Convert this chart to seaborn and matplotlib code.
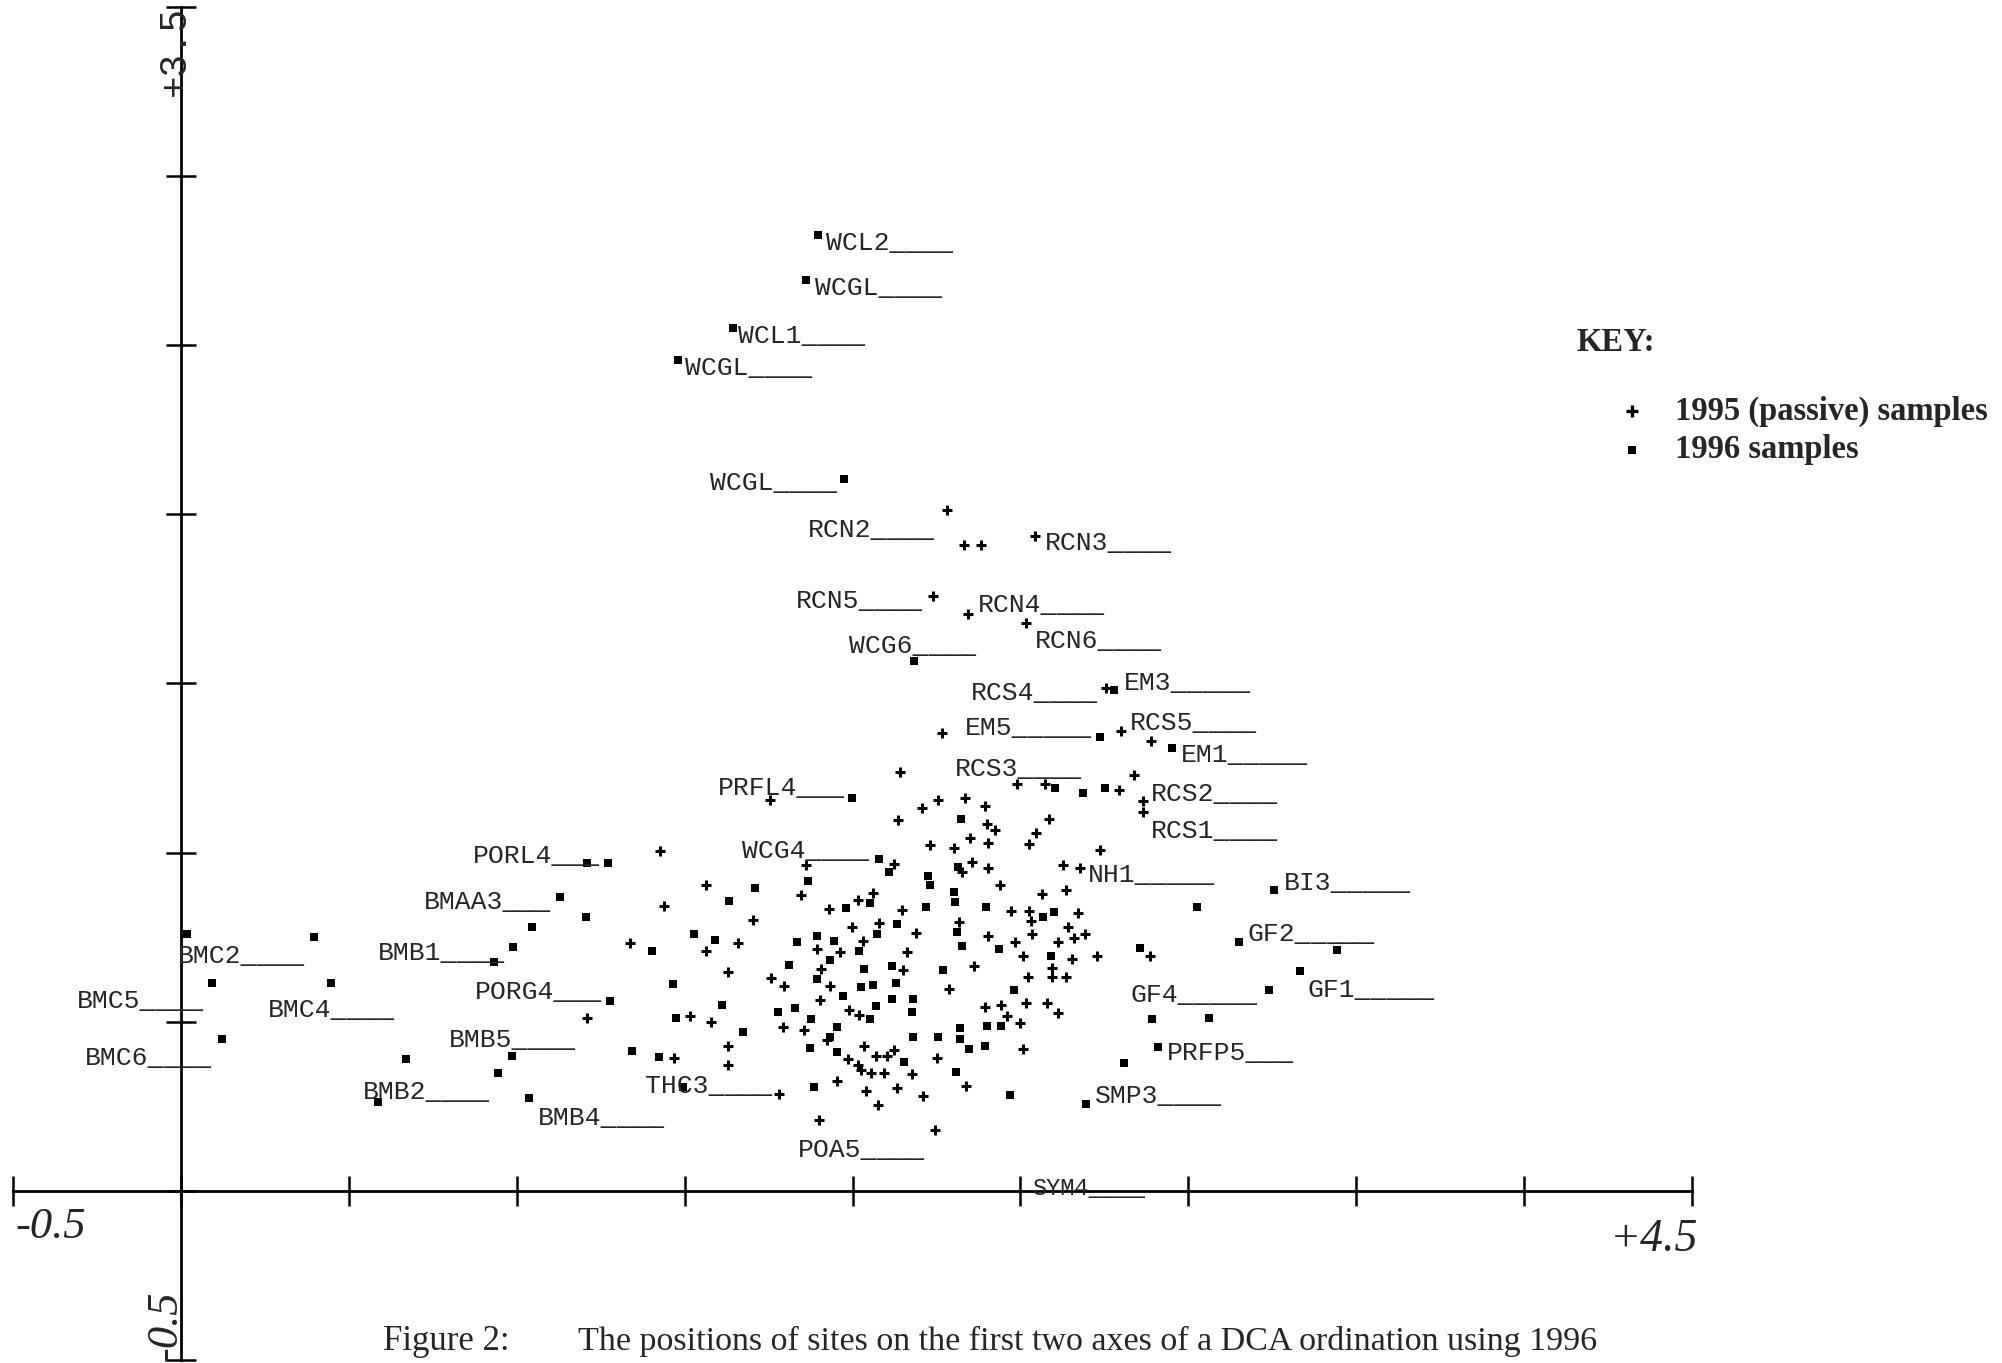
import matplotlib
matplotlib.use("Agg")
import matplotlib.pyplot as plt
import seaborn as sns
import pandas as pd

# DCA axis 1 / axis 2 site scores
sites_1995 = [
    (2.281, 2.013), (2.332, 1.910), (2.382, 1.910), (2.543, 1.936), (2.239, 1.759),
    (2.345, 1.705), (2.517, 1.680), (2.754, 1.486), (2.267, 1.353), (2.798, 1.360),
    (2.889, 1.330), (2.140, 1.238), (1.755, 1.156), (2.491, 1.202), (2.574, 1.202),
    (2.793, 1.185), (2.838, 1.228), (2.865, 1.153), (2.865, 1.121), (2.255, 1.156),
    (2.335, 1.162), (2.207, 1.133), (2.393, 1.139), (2.134, 1.097), (2.399, 1.084),
    (2.423, 1.067), (2.586, 1.099), (2.547, 1.057), (2.351, 1.044), (2.403, 1.028),
    (2.231, 1.023), (2.302, 1.015), (2.524, 1.025), (2.736, 1.008), (1.861, 0.963),
    (2.124, 0.966), (2.327, 0.942), (2.357, 0.971), (2.403, 0.955), (2.626, 0.963),
    (2.676, 0.954), (1.564, 0.904), (2.440, 0.904), (2.563, 0.877), (2.637, 0.890),
    (1.845, 0.875), (2.060, 0.880), (1.427, 1.006), (1.439, 0.842), (1.705, 0.801),
    (1.337, 0.734), (1.563, 0.710), (1.660, 0.732), (1.630, 0.646), (1.210, 0.512),
    (1.516, 0.517), (1.579, 0.500), (1.630, 0.428), (1.630, 0.372), (1.469, 0.392),
    (1.781, 0.286), (1.901, 0.210), (1.955, 0.326), (2.040, 0.296), (2.077, 0.254),
    (2.133, 0.303), (2.015, 0.860), (1.929, 0.833), (2.080, 0.791), (1.997, 0.779),
    (2.032, 0.740), (1.893, 0.715), (1.963, 0.707), (1.905, 0.656), (1.756, 0.630),
    (1.796, 0.607), (1.933, 0.606), (1.903, 0.564), (1.988, 0.535), (2.020, 0.520),
    (1.794, 0.485), (1.856, 0.476), (1.923, 0.446), (1.985, 0.389), (2.016, 0.372),
    (2.025, 0.357), (2.054, 0.348), (2.094, 0.348), (2.034, 0.428), (2.070, 0.399),
    (2.102, 0.399), (2.124, 0.417), (2.146, 0.830), (2.189, 0.762), (2.317, 0.796),
    (2.472, 0.828), (2.524, 0.827), (2.531, 0.798), (2.670, 0.821), (2.402, 0.754),
    (2.534, 0.760), (2.641, 0.781), (2.658, 0.747), (2.692, 0.759), (2.613, 0.737),
    (2.484, 0.737), (2.161, 0.705), (2.507, 0.695), (2.652, 0.686), (2.727, 0.695),
    (2.149, 0.653), (2.362, 0.665), (2.595, 0.658), (2.595, 0.633), (2.636, 0.633),
    (2.522, 0.633), (2.287, 0.596), (2.395, 0.545), (2.442, 0.550), (2.516, 0.556),
    (2.578, 0.556), (2.613, 0.527), (2.459, 0.518), (2.499, 0.495), (2.509, 0.420),
    (2.251, 0.392), (2.176, 0.346), (2.209, 0.281), (2.337, 0.311), (2.245, 0.180),
    (2.886, 0.694),
]

sites_1996 = [
    (1.897, 2.826), (1.862, 2.693), (1.644, 2.550), (1.480, 2.456), (1.975, 2.104),
    (2.183, 1.565), (2.780, 1.481), (2.736, 1.343), (2.951, 1.310), (1.998, 1.162),
    (2.602, 1.192), (2.685, 1.175), (2.752, 1.190), (2.323, 1.099), (2.078, 0.980),
    (2.110, 0.942), (1.867, 0.916), (2.224, 0.932), (2.231, 0.904), (2.315, 0.958),
    (1.710, 0.896), (2.303, 0.885), (3.256, 0.890), (1.208, 0.968), (1.273, 0.968),
    (1.129, 0.870), (1.206, 0.809), (1.632, 0.857), (1.404, 0.710), (1.529, 0.759),
    (1.591, 0.742), (1.466, 0.612), (1.278, 0.561), (1.612, 0.550), (1.474, 0.510),
    (1.673, 0.471), (1.342, 0.414), (1.423, 0.395), (1.496, 0.308), (1.885, 0.308),
    (2.052, 0.852), (1.980, 0.835), (2.133, 0.789), (2.072, 0.760), (1.836, 0.735),
    (1.893, 0.752), (1.945, 0.740), (2.019, 0.710), (1.933, 0.683), (1.811, 0.668),
    (2.035, 0.655), (2.118, 0.665), (1.893, 0.626), (2.025, 0.604), (2.060, 0.609),
    (2.130, 0.614), (1.972, 0.576), (1.829, 0.542), (2.070, 0.547), (2.118, 0.567),
    (1.777, 0.530), (2.052, 0.507), (1.876, 0.507), (1.955, 0.485), (1.933, 0.456),
    (1.873, 0.422), (1.953, 0.412), (2.305, 0.855), (2.219, 0.840), (2.312, 0.766),
    (2.326, 0.725), (2.397, 0.838), (2.568, 0.809), (2.601, 0.825), (2.436, 0.715),
    (2.590, 0.695), (2.269, 0.653), (2.482, 0.594), (2.181, 0.567), (2.176, 0.530),
    (2.320, 0.481), (2.400, 0.488), (2.441, 0.488), (2.179, 0.454), (2.255, 0.454),
    (2.320, 0.448), (2.348, 0.420), (2.395, 0.428), (2.153, 0.382), (2.308, 0.351),
    (2.469, 0.284), (2.856, 0.717), (3.025, 0.840), (2.891, 0.507), (3.062, 0.510),
    (2.911, 0.426), (2.808, 0.377), (2.694, 0.257), (3.152, 0.736), (3.443, 0.711),
    (3.332, 0.651), (3.239, 0.595), (0.017, 0.759), (0.397, 0.750), (0.094, 0.614),
    (0.446, 0.615), (0.123, 0.448), (1.045, 0.779), (0.988, 0.720), (0.932, 0.678),
    (0.985, 0.399), (0.670, 0.389), (0.945, 0.348), (0.588, 0.264), (1.037, 0.274),
]

# site labels (left edge and baseline of the text)
label_names = ["WCL2", "WCGL", "WCL1", "WCGL", "WCGL", "RCN2", "RCN3", "RCN5", "RCN4",
               "WCG6", "RCN6", "RCS4", "EM3", "EM5", "RCS5", "EM1", "RCS3", "PRFL4",
               "RCS2", "RCS1", "WCG4", "NH1", "BI3", "GF2", "GF1", "GF4", "PRFP5",
               "SMP3", "POA5", "THC3", "BMB4", "BMB2", "BMB5", "PORG4", "BMB1", "BMAA3",
               "PORL4", "BMC2", "BMC4", "BMC5", "BMC6"]
label_x = [1.922, 1.887, 1.659, 1.500, 1.576, 1.868, 2.573, 1.832, 2.372,
           1.990, 2.543, 2.353, 2.808, 2.335, 2.826, 2.978, 2.305, 1.600,
           2.889, 2.889, 1.672, 2.701, 3.284, 3.175, 3.354, 2.828, 2.937,
           2.722, 1.836, 1.382, 1.064, 0.541, 0.798, 0.876, 0.586, 0.724,
           0.869, -0.008, 0.260, -0.310, -0.286]
label_y = [2.782, 2.649, 2.506, 2.412, 2.072, 1.934, 1.895, 1.722, 1.712,
           1.589, 1.604, 1.451, 1.481, 1.348, 1.363, 1.269, 1.225, 1.170,
           1.153, 1.044, 0.985, 0.912, 0.890, 0.738, 0.573, 0.559, 0.387,
           0.259, 0.101, 0.289, 0.195, 0.271, 0.426, 0.566, 0.683, 0.833,
           0.969, 0.673, 0.515, 0.540, 0.372]

axis_ticks_x = [-0.5, 0.0, 0.5, 1.0, 1.5, 2.0, 2.5, 3.0, 3.5, 4.0, 4.5]
axis_ticks_y = [-0.5, 0.0, 0.5, 1.0, 1.5, 2.0, 2.5, 3.0, 3.5]

sns.set_style("white")
plt.rcParams["font.family"] = ["Liberation Serif", "DejaVu Serif"]

df95 = pd.DataFrame(sites_1995, columns=["axis1", "axis2"])
df96 = pd.DataFrame(sites_1996, columns=["axis1", "axis2"])

fig = plt.figure(figsize=(20.02, 13.63), dpi=100)
ax = fig.add_axes([0.0065, 0.0022, 0.8387, 0.9927])

sns.scatterplot(data=df96, x="axis1", y="axis2", marker="s", s=28, color="black",
                linewidth=0, ax=ax, legend=False)
sns.scatterplot(data=df95, x="axis1", y="axis2", marker="+", s=46, color="black",
                linewidth=2.2, ax=ax, legend=False)

ax.set_xlim(-0.5, 4.5)
ax.set_ylim(-0.5, 3.5)
ax.set_xlabel("")
ax.set_ylabel("")
for side in ["top", "right"]:
    ax.spines[side].set_visible(False)
for side in ["left", "bottom"]:
    ax.spines[side].set_position(("data", 0))
    ax.spines[side].set_linewidth(2)
    ax.spines[side].set_color("black")
ax.set_xticks(axis_ticks_x)
ax.set_yticks(axis_ticks_y)
# seaborn's white style switches tick marks off, so turn them back on
ax.tick_params(bottom=True, left=True, direction="inout", length=21, width=1.8,
               color="black", labelbottom=False, labelleft=False)

# site labels, padded with underscores like the original printout
for name, lx, ly in zip(label_names, label_x, label_y):
    ax.text(lx, ly, name.ljust(8, "_"), family="Liberation Mono", fontsize=19,
            ha="left", va="baseline")
ax.text(2.536, -0.012, "SYM4____", family="Liberation Mono", fontsize=17,
        ha="left", va="baseline")

# axis end values
ax.text(-0.494, -0.139, "-0.5", style="italic", fontsize=32, ha="left", va="baseline")
ax.text(4.518, -0.178, "+4.5", style="italic", fontsize=33, ha="right", va="baseline")
ax.text(-0.018, 3.370, "+3.5", family="Liberation Mono", fontsize=27, rotation=90,
        ha="center", va="center")
ax.text(-0.047, -0.399, "-0.5", style="italic", fontsize=32, rotation=90,
        ha="center", va="center")

# key
fig.text(0.7876, 0.749, "KEY:", fontsize=23.5, weight="bold", va="center")
fig.text(0.8367, 0.6985, "1995 (passive) samples", fontsize=23.5, weight="bold", va="center")
fig.text(0.8367, 0.670, "1996 samples", fontsize=23.5, weight="bold", va="center")
ax.scatter([0.815], [0.6985], transform=fig.transFigure, marker="+", s=80, linewidth=2.4,
           color="black", clip_on=False)
ax.scatter([0.815], [0.670], transform=fig.transFigure, marker="s", s=30, linewidth=0,
           color="black", clip_on=False)

# caption
fig.text(0.1913, 0.0095, "Figure 2:", fontsize=25, va="baseline")
fig.text(0.2889, 0.0095,
         "The positions of sites on the first two axes of a DCA ordination using 1996",
         fontsize=24.5, va="baseline")

fig.savefig("out.png", dpi=100)
